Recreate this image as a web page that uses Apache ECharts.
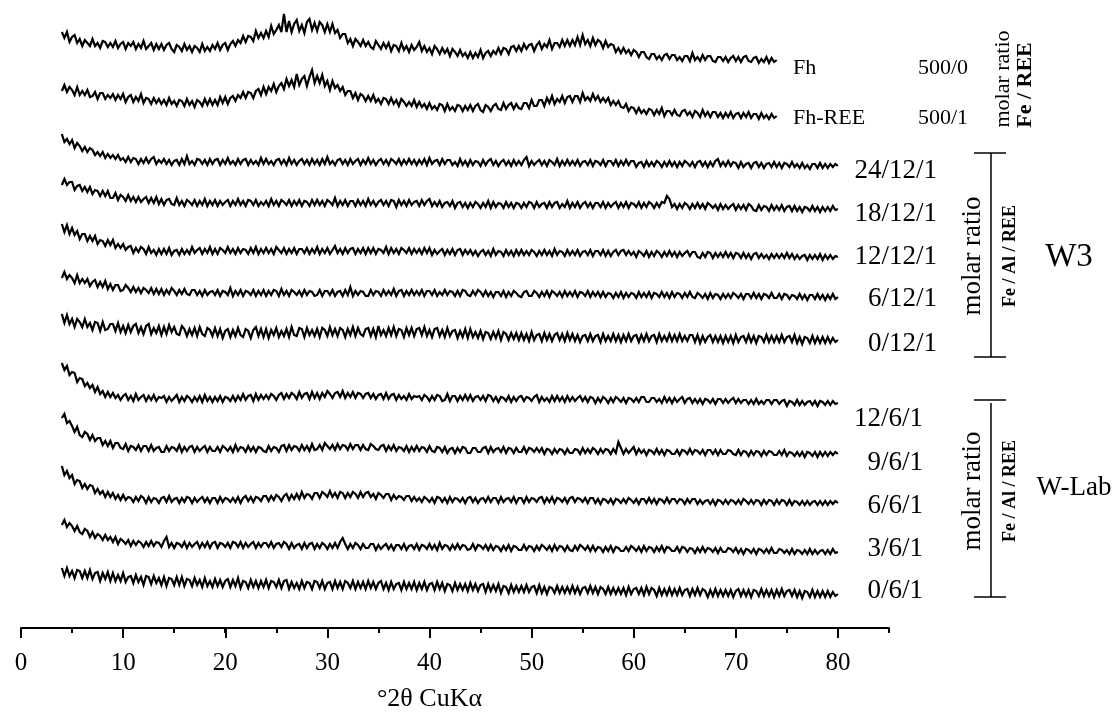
<!DOCTYPE html>
<html>
<head>
<meta charset="utf-8">
<script src="https://cdn.jsdelivr.net/npm/echarts@6/dist/echarts.min.js"></script>
<style>
html,body{margin:0;padding:0;background:#fff;}
#chart{width:1116px;height:713px;}
</style>
</head>
<body>
<div id="chart"></div>
<script>
// ---- data ----
const twoThetaStart = 4;      // first recorded angle (°2θ)
const twoThetaStep = 0.25;    // sampling step (°2θ)

const sampleNames = ['Fh', 'Fh-REE', '24/12/1', '18/12/1', '12/12/1', '6/12/1', '0/12/1',
                     '12/6/1', '9/6/1', '6/6/1', '3/6/1', '0/6/1'];
const ratiosFeREE = ['500/0', '500/1'];
const labelsW3 = ['24/12/1', '18/12/1', '12/12/1', '6/12/1', '0/12/1'];
const labelsWLab = ['12/6/1', '9/6/1', '6/6/1', '3/6/1', '0/6/1'];

// vertical stacking offsets (intensity units)
const offsets = [568, 512, 462, 419, 371, 331, 288, 225, 174, 125, 76, 34];

const majorTicks = [0, 10, 20, 30, 40, 50, 60, 70, 80];

// intensities (relative, arbitrary units), 4 -> 74 °2θ
const fh = [
28,22,28,18,23,25,17,21,14,20,17,14,21,14,17,12,19,18,13,17,
13,19,12,16,18,11,17,14,18,11,16,12,19,11,14,17,10,16,11,16,
10,15,17,11,8,15,13,9,16,10,14,8,14,12,8,16,9,13,9,15,
11,17,10,15,17,10,16,19,14,20,17,24,18,24,23,19,29,22,27,22,
29,23,34,26,30,35,28,46,28,39,28,36,40,29,35,27,38,41,30,37,
29,38,35,28,36,28,36,27,30,22,26,26,17,21,14,21,18,14,20,14,
18,13,11,19,15,11,17,12,17,9,15,14,9,17,10,14,8,15,10,13,
18,9,14,8,12,6,14,11,6,12,7,11,4,11,8,4,10,4,7,2,
8,2,7,3,10,2,7,9,4,9,6,12,6,12,11,6,13,14,9,14,
9,16,11,15,16,9,15,18,11,16,13,20,11,17,17,13,20,14,20,14,
20,15,23,15,25,16,20,14,22,15,20,18,12,19,13,16,15,8,12,7,
12,7,10,5,10,8,3,8,8,3,1,6,6,1,4,0,5,6,1,5,
5,0,3,-1,4,4,-1,7,0,3,-1,5,0,4,4,-1,-2,3,3,-1,
3,-2,2,4,-1,3,-2,3,4,-1,-2,2,3,-3,1,-2,3,-3,2,-2,
0];
const fhRee = [
25,31,24,29,26,21,29,21,25,21,26,19,20,24,17,23,23,17,21,18,
22,16,21,17,22,14,19,21,14,19,15,22,13,18,17,12,18,13,17,12,
16,11,18,12,15,10,16,15,10,17,11,15,9,16,14,10,17,11,17,11,
16,11,19,13,19,12,18,20,15,21,18,24,18,24,23,18,25,27,21,29,
22,29,25,32,24,30,33,27,37,30,36,29,42,31,37,40,30,39,46,33,
40,33,41,30,35,26,35,28,31,25,29,21,25,25,18,23,16,22,20,15,
20,15,21,14,17,12,18,17,12,18,12,16,10,17,14,10,14,10,16,9,
14,9,12,7,13,7,10,6,12,11,5,12,6,9,5,11,10,5,10,6,
11,5,10,12,6,4,11,9,5,10,12,7,6,13,7,11,13,7,12,8,
7,13,13,8,16,10,10,16,16,10,18,13,20,12,17,14,20,13,19,20,
14,20,20,14,23,16,19,15,22,16,20,14,18,14,18,11,15,11,15,9,
8,12,5,9,8,3,8,3,6,2,7,6,1,6,2,8,0,5,5,1,
6,1,0,5,6,1,4,-1,5,3,-1,6,0,4,-1,4,4,-1,3,-2,
3,-1,4,-2,2,3,-2,3,-1,4,-2,2,2,-3,3,-2,1,-3,2,-2,
0];
// 4 -> 80 °2θ
const s24_12 = [
32,24,27,22,26,18,23,20,15,19,14,18,16,11,14,10,14,8,12,8,
11,7,11,6,8,4,9,4,8,7,2,7,3,8,3,7,9,2,6,3,
7,2,6,1,5,6,1,7,2,10,2,5,1,7,6,2,6,1,7,2,
6,7,1,6,2,8,2,5,1,7,2,6,7,1,6,2,5,1,8,2,
7,2,5,1,6,7,2,6,1,8,2,6,1,5,7,2,6,1,7,2,
6,1,7,2,9,2,5,1,6,7,2,6,1,7,2,5,7,1,6,2,
8,2,6,1,5,7,2,6,1,7,5,2,7,1,6,2,7,2,6,1,
6,2,7,1,8,2,5,6,1,7,2,6,6,1,4,0,7,1,5,0,
6,1,5,4,0,6,1,5,7,1,5,0,4,6,1,5,0,6,1,5,
1,6,9,0,5,1,4,6,1,5,0,6,4,1,7,0,5,1,6,1,
5,1,6,0,4,5,1,6,0,5,4,1,6,0,5,5,1,6,0,5,
1,6,1,5,5,-1,3,4,-1,5,0,4,0,5,3,-1,4,0,5,0,
4,-1,4,0,5,3,0,4,-1,4,5,0,4,-1,4,0,5,7,0,4,
0,5,0,4,3,-2,4,-1,2,3,-2,3,4,-1,3,-2,2,3,-1,4,
-1,3,-2,3,2,-1,4,-1,2,-2,3,-2,1,-3,2,2,-2,3,-2,2,
-2,2,-1,2,0];
const s18_12 = [
24,30,24,27,27,19,23,24,18,22,17,22,15,19,18,13,18,13,18,11,
11,16,9,14,12,8,14,8,12,7,12,7,10,12,6,11,6,12,5,10,
4,9,10,5,4,11,4,8,3,9,7,4,9,3,8,4,10,3,8,4,
9,3,8,4,7,9,3,8,4,10,4,8,3,9,8,4,9,3,7,4,
8,3,10,4,8,3,9,7,4,9,3,8,4,9,3,8,7,3,9,4,
9,4,8,3,9,7,4,11,3,8,4,9,3,8,8,3,9,4,8,3,
10,4,8,3,7,9,4,8,3,9,8,2,9,4,8,3,9,4,7,8,
3,9,4,8,10,3,7,3,8,2,6,7,3,8,1,6,7,2,6,1,
6,2,7,5,1,6,2,8,1,7,2,6,5,1,7,2,6,1,6,5,
1,6,2,7,6,1,7,2,5,6,1,7,2,6,7,1,5,2,8,1,
6,2,7,1,5,7,2,6,1,6,6,2,7,1,6,2,5,7,1,6,
2,7,1,6,5,2,7,1,6,2,7,5,1,6,2,7,6,13,10,2,
5,0,5,1,6,4,0,5,1,6,1,5,0,6,4,1,4,-1,5,0,
4,0,3,5,-1,4,0,4,-1,5,3,-1,-2,4,-1,3,2,-2,4,-1,
3,-1,4,-2,2,3,-2,3,-2,2,-3,2,1,-2,3,-2,2,-3,2,-2,
2,-2,3,-1,0];
const s12_12 = [
33,25,32,23,29,22,26,18,23,23,16,21,16,21,13,17,16,11,17,12,
17,9,13,9,13,7,10,11,4,9,5,10,8,3,10,4,7,2,8,3,
8,3,9,2,6,7,2,8,3,7,3,10,4,7,9,3,8,4,10,3,
8,3,9,7,4,10,4,8,3,9,4,8,7,3,9,4,10,3,8,4,
9,4,8,3,10,7,4,9,3,8,4,9,3,8,8,4,9,3,8,4,
10,3,8,4,9,3,7,11,4,8,3,9,4,8,9,3,8,4,9,3,
9,4,9,3,8,7,4,10,3,9,4,8,3,9,7,4,9,3,8,4,
8,3,9,4,9,2,7,3,6,8,2,7,3,8,2,7,8,2,7,3,
7,2,6,1,5,7,2,6,1,8,2,6,5,1,7,2,6,1,7,2,
7,2,6,2,7,5,1,6,2,7,2,6,1,8,2,6,5,1,7,2,
6,2,7,1,5,6,2,7,1,6,6,2,7,1,6,1,5,7,2,6,
7,2,6,2,5,0,6,4,1,6,0,5,1,6,4,0,5,1,6,1,
5,0,5,1,4,6,1,5,5,0,-1,4,0,5,4,-1,4,0,4,0,
5,0,4,-1,4,3,-1,4,-1,3,-2,3,4,-1,3,-1,2,-2,3,-1,
3,-1,3,-1,4,-1,3,-2,2,-2,1,2,-3,2,-2,2,-2,3,-3,2,
-2,2,-2,1,0];
const s6_12 = [
19,25,18,22,19,14,22,14,18,14,18,11,15,17,10,15,10,16,8,13,
7,12,12,6,7,12,9,5,10,5,9,4,9,7,4,9,3,8,3,8,
2,7,3,9,6,2,7,3,8,3,2,7,7,2,6,1,7,2,5,6,
2,7,1,6,5,2,9,1,6,2,7,1,6,5,2,7,1,6,2,7,
1,6,2,7,6,1,8,2,6,1,7,5,2,6,1,7,2,6,5,1,
2,7,1,6,6,2,7,1,5,6,1,7,2,10,1,6,2,6,5,1,
1,7,2,6,5,1,7,2,6,2,8,1,6,7,1,6,2,7,2,6,
2,7,1,6,6,2,7,1,5,2,7,2,6,5,1,6,1,7,6,2,
1,6,2,7,5,1,6,1,5,0,5,5,1,6,0,5,1,6,4,1,
0,5,6,1,1,6,4,0,5,1,6,0,6,4,1,5,0,6,1,5,
1,6,0,5,4,1,6,0,5,1,5,0,5,0,4,3,-1,4,0,5,
-1,4,0,4,3,-1,5,0,4,0,5,-1,4,3,0,5,0,4,-1,5,
0,4,3,-1,4,0,5,0,-1,4,2,-1,3,-2,4,-1,3,2,-2,3,
-1,3,-1,4,2,-1,3,-2,3,3,-1,4,-1,3,-2,3,2,-1,4,-1,
-1,3,-2,3,2,-2,2,1,-2,3,-2,2,-3,2,2,-2,3,-2,2,-3,
2,-2,3,-2,0];
const s0_12 = [
26,17,25,16,21,13,21,18,13,21,13,17,10,18,17,9,18,10,11,16,
16,9,17,8,14,7,15,8,14,16,7,13,6,14,16,6,12,7,14,5,
13,6,15,8,13,6,5,14,11,4,11,5,12,4,13,6,4,12,10,4,
12,4,11,2,9,11,3,10,4,12,5,3,11,9,2,10,13,4,11,3,
11,2,10,5,12,3,9,4,11,3,13,5,4,12,11,3,12,5,10,4,
11,3,12,10,4,13,5,11,4,12,10,3,11,5,13,4,12,6,4,11,
12,4,11,3,14,5,10,4,12,5,13,4,11,10,3,12,5,12,4,11,
12,5,13,4,10,3,11,12,4,10,3,12,4,9,10,2,9,3,11,2,
11,3,8,2,9,1,8,7,1,8,2,9,0,8,6,0,7,1,7,0,
7,0,6,-1,8,0,5,6,-1,7,0,6,-1,5,7,0,6,-1,7,0,
6,-1,5,-2,4,5,-1,6,-1,4,5,-2,6,-1,4,-1,6,-1,5,-2,
5,-1,6,-1,4,5,-2,5,-1,6,-1,4,5,-2,6,-1,4,-1,6,-1,
5,-1,6,-1,4,-1,5,5,-2,5,-3,4,-2,3,5,-2,4,-2,4,-3,
4,-2,4,-3,5,-2,3,4,-2,5,-2,4,-3,4,3,-2,5,-2,4,-2,
4,-2,5,-2,3,4,-2,5,-3,3,-4,3,2,-3,4,-3,3,-3,3,-3,
3,-3,2,-2,0];
const w12_6 = [
40,33,37,28,31,30,21,25,24,17,20,15,18,11,16,9,12,6,11,6,
10,5,8,3,7,9,3,7,2,9,3,6,8,2,7,3,8,2,6,5,
7,1,6,2,5,8,1,6,2,7,5,1,6,2,7,1,8,2,6,1,
6,2,7,1,6,5,2,7,2,7,3,9,3,7,8,2,9,3,8,4,
8,4,9,7,3,8,10,4,9,5,10,8,4,11,5,9,10,4,11,5,
10,4,10,6,12,9,5,10,11,6,12,5,10,6,11,5,10,9,5,9,
10,5,9,4,8,9,4,10,4,8,9,3,8,4,7,3,9,4,7,6,
7,3,8,6,2,7,3,8,7,2,3,9,2,7,7,2,7,3,8,3,
8,2,6,7,3,7,2,8,7,2,6,1,6,5,2,7,1,6,2,6,
7,2,6,5,2,6,8,1,6,2,5,1,7,2,7,2,6,1,7,2,
6,2,5,7,2,6,1,6,5,0,5,1,6,4,0,5,1,6,4,1,
5,0,5,4,1,5,1,6,6,1,1,5,5,1,4,0,6,1,5,0,
5,1,4,6,0,4,5,0,4,0,4,-1,4,3,0,4,-1,4,4,0,
4,0,3,5,0,4,0,3,3,-1,3,-1,4,-1,2,-1,3,3,-1,3,
3,-1,2,3,-3,2,1,-2,3,-2,2,-2,1,2,-2,2,-3,2,1,-2,
2,-2,2,-1,0];
const w9_6 = [
36,40,31,33,28,22,27,19,17,22,20,14,19,13,16,16,9,13,8,13,
6,11,11,6,5,10,3,8,7,4,9,3,8,8,3,9,3,6,7,2,
2,8,3,7,6,3,9,2,7,3,7,8,2,7,3,6,8,2,7,3,
3,7,2,8,6,3,7,2,9,3,7,6,2,8,3,7,2,7,6,3,
2,8,3,7,6,2,8,9,3,9,4,8,7,3,9,4,8,3,10,4,
5,9,4,11,8,5,9,4,10,5,9,8,4,10,5,9,9,4,9,5,
4,10,8,5,4,8,9,3,8,4,9,3,7,6,3,8,2,7,3,8,
3,7,6,2,8,3,2,7,6,2,7,1,5,6,1,6,2,7,6,1,
1,6,6,2,2,6,7,1,7,2,5,6,2,7,1,6,5,1,6,2,
2,7,1,6,5,2,6,2,6,0,5,4,0,5,1,5,4,0,5,1,
1,5,4,0,6,1,5,1,6,4,0,5,1,5,4,0,5,1,12,6,
0,5,1,4,7,0,5,1,4,-1,4,3,0,5,0,4,-1,4,3,0,
0,4,-1,4,3,0,5,0,4,3,0,4,-1,4,4,0,4,-1,4,0,
0,4,3,0,-1,4,-1,3,2,-2,3,-1,3,2,-2,3,-1,3,2,-1,
-1,3,-1,4,-2,2,1,-2,2,-2,2,-3,2,1,-2,2,-3,2,-2,2,
-2,2,-1,2,0];
const w6_6 = [
37,28,32,25,28,19,23,22,15,19,14,18,17,10,14,9,12,6,11,6,
10,4,8,3,8,3,6,5,1,6,2,7,5,0,6,1,5,4,0,5,
6,1,7,1,4,5,0,5,1,6,5,0,5,1,4,6,1,5,0,5,
5,0,6,1,5,4,1,5,1,6,0,5,7,2,6,1,6,5,2,7,
7,2,7,3,8,6,2,7,9,3,8,4,9,4,11,5,9,8,4,10,
10,5,11,9,6,12,6,10,5,11,10,5,10,6,11,9,5,11,6,10,
11,6,9,4,10,8,5,9,9,3,8,4,7,6,3,7,7,2,6,2,
5,1,6,4,1,5,0,6,5,1,5,0,6,1,5,4,1,5,0,5,
6,1,5,0,4,5,1,6,1,5,5,0,6,1,4,5,1,6,0,5,
5,0,6,1,5,4,1,5,6,0,5,1,6,0,5,4,1,5,0,5,
6,1,5,4,1,5,0,5,5,0,4,-1,4,3,0,4,-1,4,3,0,
4,0,5,3,0,4,-1,4,4,0,5,0,4,-1,4,3,0,5,0,4,
4,0,4,3,-1,4,0,4,4,-1,3,-1,2,3,-1,3,-2,3,2,-1,
3,-1,3,2,-1,3,-1,4,2,-1,3,-1,3,2,-2,3,-1,3,2,-2,
3,-1,3,2,-2,3,-2,2,1,-2,2,-2,2,-2,1,2,-2,2,-2,2,
-2,2,-1,2,0];
const w3_6 = [
27,32,25,29,26,21,26,20,18,23,21,15,20,14,18,16,12,17,12,15,
10,15,8,13,11,8,12,6,11,7,11,9,5,10,6,11,6,10,9,5,
11,15,5,9,4,9,8,5,10,4,9,5,8,10,4,9,5,10,4,9,
10,4,9,8,5,9,4,10,9,5,10,4,9,5,8,10,4,9,5,9,
9,5,10,4,8,9,5,10,8,3,9,4,7,8,3,9,4,8,9,3,
8,4,9,7,3,8,4,9,4,10,14,8,3,8,4,9,7,3,8,4,
4,8,8,2,7,3,6,8,3,7,2,7,7,3,8,2,6,7,3,8,
2,7,6,3,8,3,7,2,9,3,7,6,2,7,3,8,3,7,6,2,
3,8,2,7,6,3,7,2,7,2,6,5,1,6,2,7,1,6,5,2,
2,7,2,6,5,1,6,2,7,5,2,6,1,7,2,6,5,1,6,2,
1,6,2,7,5,2,6,1,6,1,5,4,0,5,1,6,0,5,4,1,
1,5,1,6,4,1,5,0,6,1,5,4,0,5,1,6,0,5,4,1,
1,5,0,5,4,0,4,3,-1,4,0,5,0,4,3,0,4,-1,4,0,
0,4,3,0,4,-1,3,-2,3,2,-1,3,-2,3,2,-1,3,-1,4,-1,
-1,3,2,-1,2,-2,3,-2,2,1,-2,2,-2,3,-2,2,-2,1,2,-2,
2,-2,3,-1,0];
const w0_6 = [
26,18,26,18,23,16,24,23,16,23,16,24,15,21,22,13,21,15,22,13,
21,13,19,13,21,12,17,18,11,19,12,17,9,18,17,10,18,11,16,9,
17,8,16,15,9,17,9,17,8,15,14,8,16,9,14,7,16,8,13,7,
15,8,14,7,13,15,7,14,8,16,6,13,12,6,14,7,13,6,13,7,
14,6,13,12,7,14,6,13,14,5,12,6,11,5,13,6,12,11,5,13,
12,6,13,5,11,12,5,13,6,12,5,13,11,6,13,5,12,6,12,5,
13,6,12,5,11,13,5,11,4,12,5,10,11,4,12,5,11,5,12,4,
11,5,12,4,10,11,4,12,5,11,3,10,9,3,11,4,10,4,10,3,
11,4,10,3,9,10,2,10,3,9,3,10,1,8,7,1,9,2,8,2,
8,2,9,2,7,8,1,9,1,7,0,7,6,1,8,1,7,1,7,1,
8,1,7,0,6,7,1,8,1,7,0,7,5,0,7,0,6,0,6,0,
6,-1,7,0,5,6,0,6,-1,7,0,6,4,-2,6,-1,5,-1,6,-1,
5,-1,6,-1,4,5,-2,5,-1,6,-1,5,3,-3,4,-2,5,-2,4,-2,
4,-2,4,-3,3,5,-2,4,-2,4,-3,4,3,-2,5,-2,4,-2,4,-3,
4,-2,5,-2,3,4,-2,4,-3,3,-4,3,2,-3,4,-3,3,-3,3,-3,
3,-3,2,-2,0];

const intensities = [fh, fhRee, s24_12, s18_12, s12_12, s6_12, s0_12,
                     w12_6, w9_6, w6_6, w3_6, w0_6];

// ---- chart ----
const FONT = "'Liberation Serif', 'Times New Roman', serif";
const chart = echarts.init(document.getElementById('chart'), null, {renderer: 'canvas'});

const series = intensities.map((arr, k) => ({
  name: sampleNames[k],
  type: 'line',
  xAxisIndex: 0,
  yAxisIndex: 0,
  showSymbol: false,
  symbol: 'none',
  silent: true,
  animation: false,
  lineStyle: {color: '#000', width: 2.2, join: 'miter', miterLimit: 4},
  data: arr.map((v, i) => [twoThetaStart + i * twoThetaStep, v + offsets[k]])
}));

function txt(text, x, y, size, opts) {
  opts = opts || {};
  return {
    type: 'text', x: x, y: y, rotation: opts.rot || 0, silent: true,
    style: {
      text: text, fill: '#000', font: (opts.bold ? 'bold ' : '') + size + 'px ' + FONT,
      textAlign: opts.align || 'left', textVerticalAlign: 'middle'
    }
  };
}
function seg(x1, y1, x2, y2) {
  return {type: 'line', silent: true, shape: {x1: x1, y1: y1, x2: x2, y2: y2},
          style: {stroke: '#000', lineWidth: 1.5}};
}
const R = Math.PI / 2;
const graphics = [
  txt(sampleNames[0], 793, 68, 22),
  txt(ratiosFeREE[0], 918, 68, 22),
  txt(sampleNames[1], 793, 118, 22),
  txt(ratiosFeREE[1], 918, 118, 22),
  txt('molar ratio', 1003, 79, 22, {rot: R, align: 'center'}),
  txt('Fe / REE', 1025, 85, 22, {rot: R, align: 'center', bold: true}),
  // W3 group
  seg(974, 153, 1006, 153), seg(991, 153, 991, 357), seg(974, 357, 1006, 357),
  txt('molar ratio', 973, 256, 27, {rot: R, align: 'center'}),
  txt('Fe / Al / REE', 1010, 256, 18, {rot: R, align: 'center', bold: true}),
  txt('W3', 1069, 257, 33, {align: 'center'}),
  // W-Lab group
  seg(974, 400, 1006, 400), seg(991, 403, 991, 597), seg(974, 597, 1006, 597),
  txt('molar ratio', 973, 491, 27, {rot: R, align: 'center'}),
  txt('Fe / Al / REE', 1010, 491, 18, {rot: R, align: 'center', bold: true}),
  txt('W-Lab', 1074, 488, 27, {align: 'center'})
];
const w3Y = [171, 214, 257, 299, 344];
labelsW3.forEach((t, i) => graphics.push(txt(t, 937, w3Y[i], 27, {align: 'right'})));
const wlY = [419, 463, 506, 549, 591];
labelsWLab.forEach((t, i) => graphics.push(txt(t, 923, wlY[i], 27, {align: 'right'})));

chart.setOption({
  animation: false,
  backgroundColor: '#fff',
  grid: [
    {left: 21, right: 227, top: 0, bottom: 85, containLabel: false, outerBoundsMode: 'none'},
    {left: 21, right: 278, top: 0, bottom: 85, containLabel: false, outerBoundsMode: 'none'}
  ],
  xAxis: [
    {
      type: 'value', gridIndex: 0, min: 0, max: 85, interval: 5,
      axisLine: {onZero: false, lineStyle: {color: '#000', width: 2}},
      axisTick: {length: 5, lineStyle: {color: '#000', width: 2}},
      axisLabel: {show: false},
      splitLine: {show: false}
    },
    {
      type: 'value', gridIndex: 1, min: 0, max: 80, interval: 10,
      axisLine: {show: false, onZero: false},
      axisTick: {length: 10, lineStyle: {color: '#000', width: 2}},
      axisLabel: {color: '#000', fontSize: 25, fontFamily: FONT, margin: 14,
                  padding: [9, 0, 0, 0], lineHeight: 25,
                  formatter: v => majorTicks.indexOf(v) >= 0 ? String(v) : ''},
      splitLine: {show: false},
      name: '°2θ CuKα', nameLocation: 'middle', nameGap: 58, nameMoveOverlap: false,
      nameTextStyle: {color: '#000', fontSize: 26, fontFamily: FONT}
    }
  ],
  yAxis: [
    {type: 'value', gridIndex: 0, min: 0, max: 628, show: false},
    {type: 'value', gridIndex: 1, min: 0, max: 628, show: false}
  ],
  series: series,
  graphic: graphics
});
</script>
</body>
</html>
